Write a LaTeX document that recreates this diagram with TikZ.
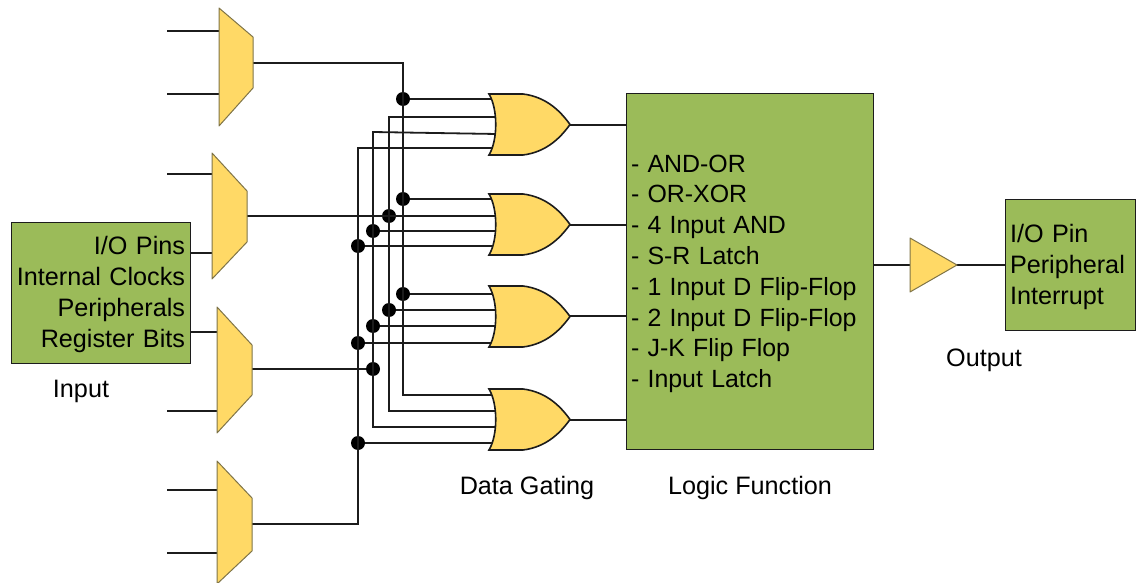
\documentclass[tikz,border=0pt]{standalone}
\usepackage{fontspec}
\setmainfont{Liberation Sans}
\definecolor{boxgreen}{HTML}{9BBB59}
\definecolor{gateyellow}{HTML}{FFD966}
\definecolor{muxedge}{HTML}{7F7448}
\definecolor{wirec}{HTML}{1C1C1C}
\newcommand{\tdrop}{\rule{0pt}{22pt}}
\tikzset{
  wire/.style={draw=wirec,line width=1.8pt},
  greenbox/.style={draw=wirec,line width=1pt,fill=boxgreen,inner sep=0pt,inner xsep=5pt,font=\fontsize{25.2}{30.8}\selectfont},
  label/.style={font=\fontsize{25.2}{30}\selectfont,inner sep=0pt},
  muxshape/.style={draw=muxedge,line width=1pt,fill=gateyellow,line join=round},
  gateshape/.style={draw=wirec,line width=1.6pt,fill=gateyellow,line join=miter},
  dotnode/.style={circle,fill=black,inner sep=0pt,minimum size=14pt},
}
% #1 name, #2 left x, #3 top tip y, #4 upper right y, #5 lower right y, #6 bottom tip y, #7 right x
\newcommand{\muxat}[7]{%
  \path[muxshape] (#2,#3) coordinate (#1tl) -- (#7,#4) -- (#7,#5) -- (#2,#6) -- cycle;}
% #1 top y
\newcommand{\orgate}[1]{%
  \pgfmathsetmacro{\gt}{#1}%
  \path[gateshape] (489,\gt) -- (523,\gt)
    .. controls (547,\gt+3) and (561,\gt+18) .. (570,\gt+30.5)
    .. controls (561,\gt+43) and (547,\gt+58) .. (523,\gt+61)
    -- (489,\gt+61)
    .. controls (498,\gt+46) and (498,\gt+15) .. (489,\gt) -- cycle;}
\begin{document}
\begin{tikzpicture}[x=1pt,y=-1pt]
\useasboundingbox (0,0) rectangle (1136,583);

% pins
\coordinate (m1a) at (167,31); \coordinate (m1ai) at (225,31);
\coordinate (m1b) at (167,94); \coordinate (m1bi) at (225,94);
\coordinate (m1o) at (250,63);
\coordinate (m2a) at (167,174); \coordinate (m2ai) at (218,174);
\coordinate (m2bi) at (218,253);
\coordinate (m2o) at (244,216);
\coordinate (m3ai) at (222,332);
\coordinate (m3b) at (167,411); \coordinate (m3bi) at (222,411);
\coordinate (m3o) at (249,369);
\coordinate (m4a) at (167,490); \coordinate (m4ai) at (222,490);
\coordinate (m4b) at (167,553); \coordinate (m4bi) at (222,553);
\coordinate (m4o) at (249,524);

% junctions on the four buses
\node[dotnode] (d403a) at (403,99) {};
\node[dotnode] (d403b) at (403,199) {};
\node[dotnode] (d403c) at (403,294) {};
\node[dotnode] (d389b) at (389,216) {};
\node[dotnode] (d389c) at (389,310) {};
\node[dotnode] (d373b) at (373,231) {};
\node[dotnode] (d373c) at (373,326) {};
\node[dotnode] (d373m) at (373,369) {};
\node[dotnode] (d358b) at (358,246) {};
\node[dotnode] (d358c) at (358,343) {};
\node[dotnode] (d358d) at (358,443) {};

% bus corners and gate input ends
\coordinate (c403t) at (403,63);
\coordinate (c403e) at (403,395);
\coordinate (c389t) at (389,117);
\coordinate (c389e) at (389,411);
\coordinate (c373t) at (373,132);
\coordinate (c373e) at (373,427);
\coordinate (c358t) at (358,148);
\coordinate (c358e) at (358,524);
\coordinate (g1a) at (495,99);  \coordinate (g1b) at (497,117); \coordinate (g1c) at (497,134); \coordinate (g1d) at (495,148);
\coordinate (g2a) at (495,199); \coordinate (g2b) at (497,216); \coordinate (g2c) at (497,231); \coordinate (g2d) at (495,246);
\coordinate (g3a) at (495,294); \coordinate (g3b) at (497,310); \coordinate (g3c) at (497,326); \coordinate (g3d) at (495,343);
\coordinate (g4a) at (495,395); \coordinate (g4b) at (497,411); \coordinate (g4c) at (497,427); \coordinate (g4d) at (495,443);

% boxes
\node[greenbox,minimum width=247.5pt,minimum height=355pt,text width=238pt,align=left,inner xsep=4.7pt,font=\fontsize{24.9}{30.8}\selectfont] (logic) at (750,271.5)
 {\tdrop- AND-OR\\- OR-XOR\\- 4 Input AND\\- S-R Latch\\- 1 Input D Flip-Flop\\- 2 Input D Flip-Flop\\- J-K Flip Flop\\- Input Latch};
\node[greenbox,minimum width=179pt,minimum height=141pt,text width=169pt,align=right] (inbox) at (100.5,292.5)
 {\tdrop I/O Pins\\Internal Clocks\\Peripherals\\Register Bits};
\node[greenbox,minimum width=130pt,minimum height=130pt,text width=120pt,align=left] (outbox) at (1070,265)
 {\tdrop I/O Pin\\Peripheral\\Interrupt};

% wires
\draw[wire] (m1a) -- (m1ai);
\draw[wire] (m1b) -- (m1bi);
\draw[wire] (m2a) -- (m2ai);
\draw[wire] (inbox.east |- m2bi) -- (m2bi);
\draw[wire] (inbox.east |- m3ai) -- (m3ai);
\draw[wire] (m3b) -- (m3bi);
\draw[wire] (m4a) -- (m4ai);
\draw[wire] (m4b) -- (m4bi);
\draw[wire,line join=miter] (m1o) -- (c403t) -- (c403e) -- (g4a);
\draw[wire,line join=miter] (g1b) -- (c389t) -- (c389e) -- (g4b);
\draw[wire,line join=miter] (g1c) -- (c373t) -- (c373e) -- (g4c);
\draw[wire,line join=miter] (g1d) -- (c358t) -- (c358e) -- (m4o);
\draw[wire] (d403a) -- (g1a);
\draw[wire] (d403b) -- (g2a);
\draw[wire] (d403c) -- (g3a);
\draw[wire] (m2o) -- (g2b);
\draw[wire] (d389c) -- (g3b);
\draw[wire] (d373b) -- (g2c);
\draw[wire] (d373c) -- (g3c);
\draw[wire] (m3o) -- (d373m);
\draw[wire] (d358b) -- (g2d);
\draw[wire] (d358c) -- (g3d);
\draw[wire] (d358d) -- (g4d);

% output stubs of the gates
\coordinate (g1o) at (565,125); \coordinate (g2o) at (565,225); \coordinate (g3o) at (565,316); \coordinate (g4o) at (565,420);
\draw[wire] (g1o) -- (logic.west |- g1o);
\draw[wire] (g2o) -- (logic.west |- g2o);
\draw[wire] (g3o) -- (logic.west |- g3o);
\draw[wire] (g4o) -- (logic.west |- g4o);

% output buffer wires
\coordinate (bufin) at (915,265); \coordinate (bufout) at (950,265);
\draw[wire] (logic.east |- bufin) -- (bufin);
\draw[wire] (bufout) -- (outbox.west |- bufout);

% muxes
\muxat{m1}{219}{8}{37}{88}{126}{253}
\muxat{m2}{212}{153}{191}{242}{279}{247}
\muxat{m3}{217}{307}{345}{395}{433}{252}
\path[muxshape] (217,461) -- (252,498) -- (252,551) -- (218,583) -- (217,583) -- cycle;

% gates
\orgate{94}
\orgate{194}
\orgate{286}
\orgate{389}

% buffer
\path[muxshape] (910,238) -- (957,265) -- (910,292) -- cycle;

% labels
\node[label] (linput) at (81,391) {Input};
\node[label] (ldata) at (527,487.5) {Data Gating};
\node[label] (llogic) at (750,487.5) {Logic Function};
\node[label] (loutput) at (984,360.5) {Output};
\end{tikzpicture}
\end{document}
